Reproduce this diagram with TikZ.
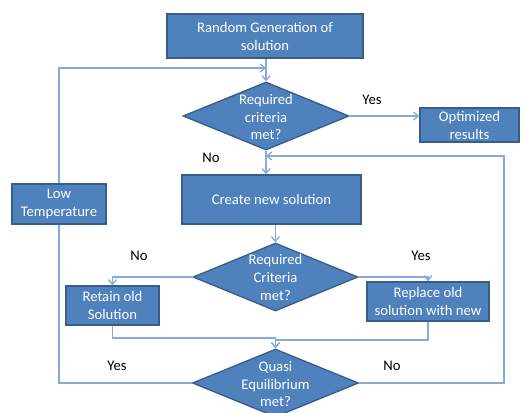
\documentclass[tikz,border=0pt]{standalone}
\usepackage{fontspec}
\setmainfont{Carlito}
\usetikzlibrary{shapes.geometric,arrows.meta}
\definecolor{boxfill}{HTML}{4F81BD}
\definecolor{boxline}{HTML}{385D8A}
\definecolor{connline}{HTML}{86AADA}
\def\px{0.75pt}
\tikzset{
  box/.style={draw=boxline, fill=boxfill, line width=1.1pt, text=white, align=center,
    inner sep=0pt, font=\fontsize{11}{13.5}\selectfont},
  decision/.style={diamond, draw=boxline, fill=boxfill, line width=1pt, inner sep=0pt, aspect=2.4},
  dtext/.style={text=white, align=center, font=\fontsize{11}{13.2}\selectfont},
  conn/.style={draw=connline, line width=1pt},
  arr/.style={conn, -{Straight Barb[length=3.5pt,width=6pt]}},
  lbl/.style={text=black, font=\fontsize{11}{13.2}\selectfont},
}
\begin{document}
\begin{tikzpicture}[x=0.75pt, y=-0.75pt]
\useasboundingbox (0,0) rectangle (523,412);
% coordinates for loop-backs
\coordinate (j1) at (266,68);
\coordinate (j2) at (266,156);
\coordinate (c2) at (504,156);
\coordinate (m1) at (275.5,338);
\coordinate (m2) at (275.5,340);
% shapes
\node[decision, minimum width=166*\px, minimum height=68*\px] (d1) at (266,116) {};
\node[decision, minimum width=165*\px, minimum height=68*\px] (d2) at (275.5,277) {};
\node[decision, minimum width=166*\px, minimum height=68*\px] (d3) at (275.5,383) {};
\node[box, minimum width=196*\px, minimum height=44*\px] (box1) at (265,36) {Random Generation of\\solution};
\node[box, minimum width=99*\px, minimum height=34*\px] (opt) at (469.5,125) {Optimized\\results};
\node[box, minimum width=179*\px, minimum height=49*\px] (create) at (271.5,199.5) {Create new solution};
\node[box, minimum width=93*\px, minimum height=39*\px] (retain) at (112.5,305.5) {Retain old\\Solution};
\node[box, minimum width=122*\px, minimum height=39*\px] (replace) at (428,301.5) {Replace old\\solution with new};
\node[box, minimum width=94*\px, minimum height=40*\px] (lowt) at (59,204) {Low\\Temperature};
% diamond texts
\node[dtext] (d1t) at (266,117) {Required\\criteria\\met?};
\node[dtext] (d2t) at (275.5,277.5) {Required\\Criteria\\met?};
\node[dtext] (d3t) at (275.5,384) {Quasi\\Equilibrium\\met?};
% connectors
\draw[arr] (d1.north |- box1.south) -- (d1.north);
\draw[arr] (d1.east) -- (d1.east -| opt.west);
\draw[arr] (d1.south) -- (d1.south |- create.north);
\draw[arr] (d2.north |- create.south) -- (d2.north);
\draw[arr] (d2.west) -| (retain.north);
\draw[arr] (d2.east) -| (replace.north);
\draw[arr] (retain.south) |- (m1) -- (d3.north);
\draw[arr] (replace.south) |- (m2) -- (d3.north);
\draw[conn] (d3.west) -| (lowt.south);
\draw[arr] (lowt.north) |- (j1);
\draw[arr] (d3.east) -| (c2) -- (j2);
% labels
\node[lbl] (l1) at (372,100) {Yes};
\node[lbl] (l2) at (211,158) {No};
\node[lbl] (l3) at (139,256) {No};
\node[lbl] (l4) at (421,256) {Yes};
\node[lbl] (l5) at (117,366) {Yes};
\node[lbl] (l6) at (392,366) {No};
\end{tikzpicture}
\end{document}
